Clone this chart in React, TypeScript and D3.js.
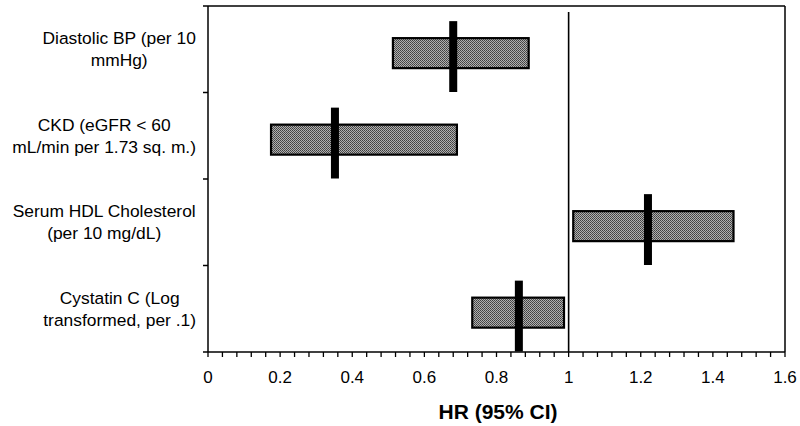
import React, { useMemo } from "react";
import * as d3 from "d3";

const categories: string[][] = [
  ["Diastolic BP (per 10", "mmHg)"],
  ["CKD (eGFR < 60", "mL/min per 1.73 sq. m.)"],
  ["Serum HDL Cholesterol", "(per 10 mg/dL)"],
  ["Cystatin C (Log", "transformed, per .1)"],
];
const hr: number[] = [0.68, 0.352, 1.22, 0.862];
const ciLow: number[] = [0.51, 0.172, 1.01, 0.73];
const ciHigh: number[] = [0.892, 0.693, 1.46, 0.99];
const majorTicks: number[] = [0, 0.2, 0.4, 0.6, 0.8, 1, 1.2, 1.4, 1.6];
const minorTicks: number[] = d3.range(0, 41).map((i) => i * 0.04);
const refValue = 1;
const xTitle = "HR (95% CI)";

const W = 800;
const H = 426;
const left = 208;
const right = 785;
const top = 6;
const bottom = 352;
const FONT = "'Liberation Sans', Arial, sans-serif";
const labelSize = 17.4;

function measure(text: string, font: string): number {
  try {
    const c = document.createElement("canvas").getContext("2d");
    if (c) {
      c.font = font;
      return c.measureText(text).width;
    }
  } catch (e) {}
  return text.length * 8;
}

export default function App() {
  const x = d3.scaleLinear().domain([0, 1.6]).range([left, right]);
  const ids = categories.map((_, i) => String(i));
  const y = d3.scaleBand<string>().domain(ids).range([top, bottom]).paddingInner(0).paddingOuter(0);
  const bw = y.bandwidth();

  const blockWidths = useMemo(
    () =>
      categories.map((lines) =>
        Math.max(...lines.map((l) => measure(l, `${labelSize}px 'Liberation Sans'`)))
      ),
    []
  );

  const yTickPos = [...ids.map((id) => y(id)!), bottom];

  return (
    <svg width={W} height={H} style={{ position: "absolute", left: 0, top: 0, background: "#fff" }}>
      <defs>
        <pattern id="chk" width={2} height={2} patternUnits="userSpaceOnUse">
          <rect width={2} height={2} fill="#b0b0b0" shapeRendering="crispEdges" />
          <rect width={1} height={1} fill="#404040" shapeRendering="crispEdges" />
          <rect x={1} y={1} width={1} height={1} fill="#505050" shapeRendering="crispEdges" />
        </pattern>
      </defs>
      <rect x={0} y={0} width={W} height={H} fill="#fff" />

      {/* frame */}
      <line x1={left} x2={right} y1={top} y2={top} stroke="#000" strokeWidth={1.5} />
      <line x1={right} x2={right} y1={top} y2={bottom} stroke="#000" strokeWidth={1.5} />
      <line x1={left} x2={left} y1={top} y2={bottom} stroke="#000" strokeWidth={1.5} />
      <line x1={left} x2={right} y1={bottom} y2={bottom} stroke="#000" strokeWidth={1.5} />

      {/* y ticks */}
      {yTickPos.map((p, i) => (
        <line key={"yt" + i} x1={left - 5} x2={left} y1={p} y2={p} stroke="#000" strokeWidth={1.5} />
      ))}

      {/* x ticks */}
      {minorTicks.map((t, i) => (
        <line key={"xt" + i} x1={x(t)} x2={x(t)} y1={bottom} y2={bottom + 5} stroke="#000" strokeWidth={1.3} />
      ))}
      {majorTicks.map((t, i) => (
        <text
          key={"xl" + i}
          x={x(t)}
          y={383}
          textAnchor="middle"
          fontFamily={FONT}
          fontSize={17}
          fill="#000"
        >
          {d3.format("~g")(t)}
        </text>
      ))}
      <text x={498} y={419} textAnchor="middle" fontFamily={FONT} fontSize={21} fontWeight="bold" fill="#000">
        {xTitle}
      </text>

      {/* reference line */}
      <line x1={x(refValue)} x2={x(refValue)} y1={top + 6} y2={bottom} stroke="#000" strokeWidth={1.6} />

      {/* category labels */}
      {categories.map((lines, i) => {
        const cy = y(ids[i])! + bw / 2;
        const cx = 196 - blockWidths[i] / 2;
        const lh = 22;
        return lines.map((l, j) => (
          <text
            key={"lab" + i + "-" + j}
            x={cx}
            y={cy + (j - (lines.length - 1) / 2) * lh + 6}
            fontFamily={FONT}
            fontSize={labelSize}
            fill="#000"
            textAnchor="middle"
          >
            {l}
          </text>
        ));
      })}

      {/* boxes */}
      {ids.map((id, i) => {
        const bt = y(id)!;
        const x0 = x(ciLow[i]);
        const x1 = x(ciHigh[i]);
        const boxTop = bt + bw * 0.36;
        const boxH = bw * 0.37;
        return (
          <rect
            key={"box" + i}
            x={x0 + 1}
            y={boxTop + 1}
            width={x1 - x0 - 2}
            height={boxH - 2}
            fill="url(#chk)"
            stroke="#000"
            strokeWidth={2.2}
          />
        );
      })}

      {/* point estimates */}
      {ids.map((id, i) => {
        const bt = y(id)!;
        return (
          <rect
            key={"est" + i}
            x={x(hr[i]) - 4}
            y={bt + bw * 0.175}
            width={8}
            height={bw * 0.825 - 0.5}
            fill="#000"
          />
        );
      })}
    </svg>
  );
}
